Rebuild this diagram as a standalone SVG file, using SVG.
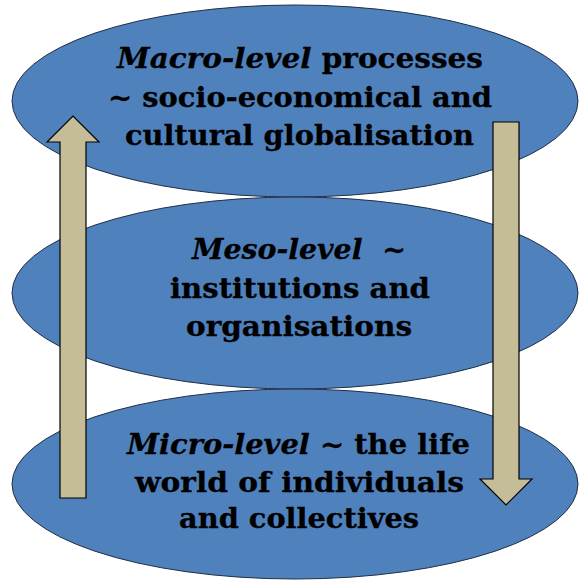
<svg xmlns="http://www.w3.org/2000/svg" width="579" height="580" viewBox="0 0 579 580">
<style>
.lvl{fill:#4F81BD;stroke:#1F2F45;stroke-width:1}
.arr{fill:#C4BD97;stroke:#000;stroke-width:1.2;stroke-linejoin:miter}
text{font-family:"DejaVu Serif","Liberation Serif",serif;font-weight:bold;font-size:27.5px;fill:#000;stroke:#000;stroke-width:0.3;text-anchor:middle}
.it{font-style:italic}
</style>
<rect width="579" height="580" fill="#fff"/>
<g id="macro">
<ellipse class="lvl" cx="295" cy="101" rx="283" ry="96"/>
<text x="300" y="68" textLength="366" lengthAdjust="spacingAndGlyphs"><tspan class="it">Macro-level</tspan> processes</text>
<text x="300" y="107" textLength="384" lengthAdjust="spacingAndGlyphs">~ socio-economical and</text>
<text x="299.5" y="145" textLength="349" lengthAdjust="spacingAndGlyphs">cultural globalisation</text>
</g>
<g id="meso">
<ellipse class="lvl" cx="295" cy="293" rx="283" ry="96"/>
<text x="299" y="259" textLength="214" lengthAdjust="spacingAndGlyphs"><tspan class="it">Meso-level</tspan>&#160; ~</text>
<text x="300" y="298" textLength="260" lengthAdjust="spacingAndGlyphs">institutions and</text>
<text x="299" y="336" textLength="226" lengthAdjust="spacingAndGlyphs">organisations</text>
</g>
<g id="micro">
<ellipse class="lvl" cx="295" cy="484" rx="283" ry="95"/>
<text x="298.5" y="454" textLength="343" lengthAdjust="spacingAndGlyphs"><tspan class="it">Micro-level</tspan> ~ the life</text>
<text x="299.5" y="492" textLength="329" lengthAdjust="spacingAndGlyphs">world of individuals</text>
<text x="299" y="528" textLength="240" lengthAdjust="spacingAndGlyphs">and collectives</text>
</g>
<g id="connectors">
<path id="arrow-up" class="arr" d="M60,498 L60,142 L47,142 L73,116 L99,142 L86,142 L86,498 Z"/>
<path id="arrow-down" class="arr" d="M493,122 L519,122 L519,479 L532,479 L506,505 L480,479 L493,479 Z"/>
</g>
</svg>
